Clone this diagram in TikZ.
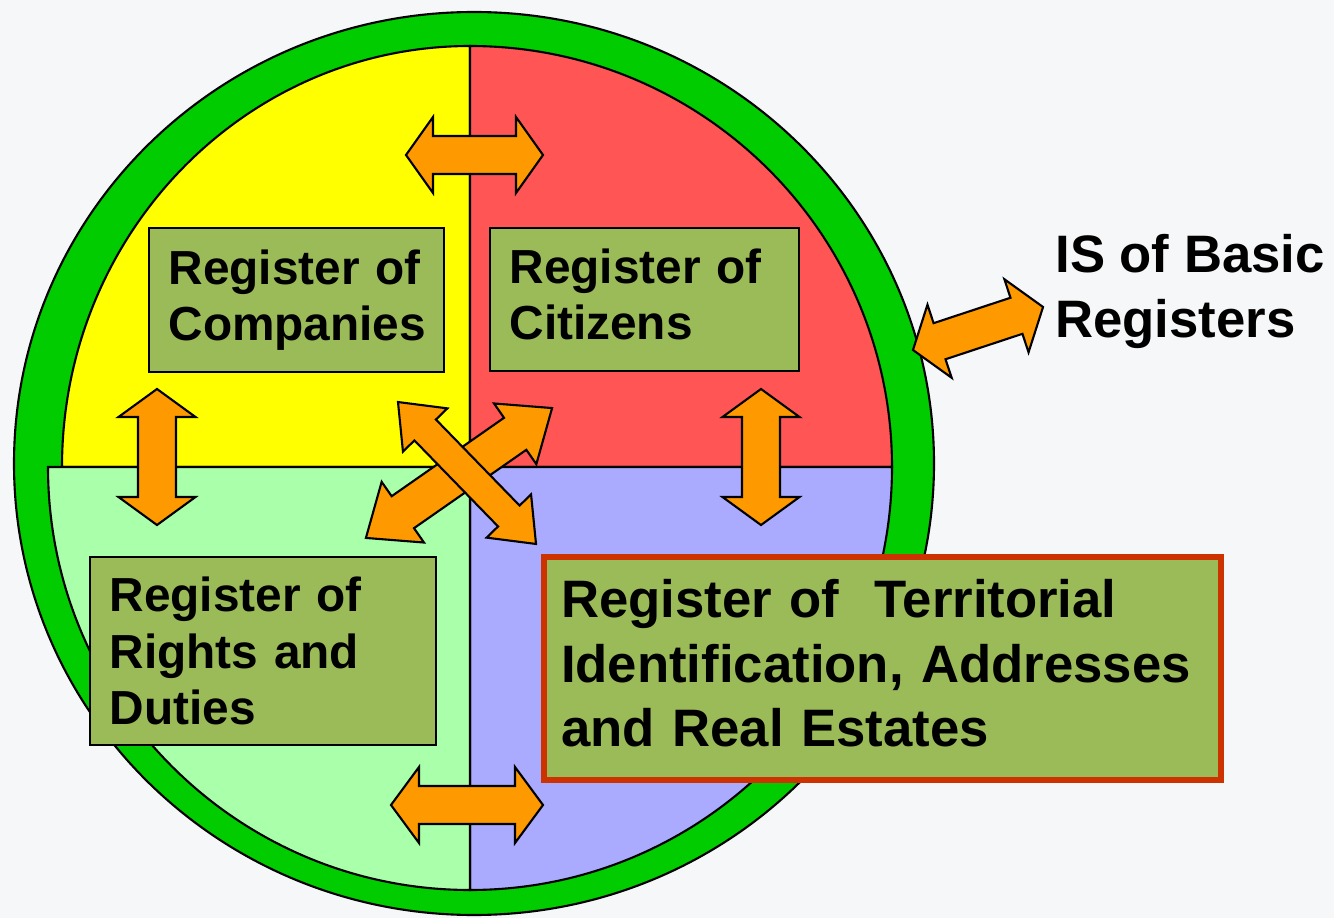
\documentclass[tikz,border=0pt]{standalone}
\usepackage{fontspec}
\setmainfont{Liberation Sans}

\definecolor{bgpaper}{RGB}{246,247,249}
\definecolor{ringgreen}{HTML}{00CC00}
\definecolor{quadyellow}{HTML}{FFFF00}
\definecolor{quadred}{HTML}{FF5555}
\definecolor{quadgreen}{HTML}{AAFFAA}
\definecolor{quadblue}{HTML}{AAAAFF}
\definecolor{arroworange}{HTML}{FF9900}
\definecolor{boxolive}{HTML}{9BBB59}
\definecolor{borderred}{HTML}{CC3300}

\tikzset{
  quadrant/.style={draw=black, line width=1.2pt},
  regbox/.style={draw=black, fill=boxolive, line width=1.2pt, inner xsep=0.39cm,
    inner ysep=0pt, align=left, font=\fontsize{27.2}{32}\selectfont\bfseries},
  arrowfill/.style={draw=black, fill=arroworange, line width=1.2pt, line join=miter},
}

% double block arrow: centre x, centre y, angle, half length, head length, head half width, shaft half width
\newcommand{\regarrow}[7]{%
  \begin{scope}[shift={(#1,#2)},rotate=#3]
    \draw[arrowfill] (-#4,0) -- (-#4+#5,#6) -- (-#4+#5,#7) -- (#4-#5,#7) -- (#4-#5,#6) -- (#4,0)
      -- (#4-#5,-#6) -- (#4-#5,-#7) -- (-#4+#5,-#7) -- (-#4+#5,-#6) -- cycle;
  \end{scope}}

\begin{document}
\begin{tikzpicture}[x=0.02cm,y=-0.02cm]
		\useasboundingbox (0,0) rectangle (1334,918);
		\fill[bgpaper] (0,0) rectangle (1334,918);
		% outer ring
		\draw[fill=ringgreen, line width=1.2pt] (474,463.5) ellipse [x radius=460, y radius=451.5];
		% quadrants
		\coordinate (O) at (470,467);
		\draw[quadrant, fill=quadyellow] (O) -- ++(-408,0) arc[start angle=180, end angle=270, x radius=408, y radius=421] -- cycle;
		\draw[quadrant, fill=quadred] (O) -- ++(0,-421) arc[start angle=270, end angle=360, x radius=422, y radius=421] -- cycle;
		\draw[quadrant, fill=quadblue] (O) -- ++(422,0) arc[start angle=0, end angle=90, x radius=422, y radius=423] -- cycle;
		\draw[quadrant, fill=quadgreen] (O) -- ++(0,423) arc[start angle=90, end angle=180, x radius=422, y radius=423] -- cycle;
		% registers
		\node[regbox, text width=5.12cm, minimum height=2.88cm] (companies) at (296.5,300) {Register of\\Companies};
		\node[regbox, text width=5.4cm, minimum height=2.86cm] (citizens) at (644.5,299.5) {Register of\\Citizens\vphantom{p}};
		\node[regbox, text width=6.14cm, minimum height=3.76cm] (rights) at (263,651) {Register of\\Rights and\\Duties};
		\node[regbox, draw=borderred, line width=3.4pt, inner xsep=0.34cm, text width=12.86cm, minimum height=4.46cm,
			font=\fontsize{30}{36.5}\selectfont\bfseries] (territorial) at (882.5,668.5)
			{Register of\ \ Territorial\\Identification, Addresses\\and Real Estates\vphantom{g}};
		\node[font=\fontsize{30}{37}\selectfont\bfseries, align=left, inner sep=0pt, anchor=west] (isbr) at (1055,291) {IS of Basic\\Registers};
		% arrows
		\regarrow{474.5}{155}{0}{68.5}{27}{38}{19}
		\regarrow{467}{805}{0}{76}{28}{38}{19}
		\regarrow{157}{457}{90}{68}{28}{38.5}{19}
		\regarrow{761}{457}{90}{68}{28}{38.5}{19}
		\regarrow{978}{328.5}{18.3}{68.5}{28}{38.5}{19}
		\regarrow{459}{473}{34.9}{113.5}{45}{37}{19.5}
		\regarrow{467}{473}{-45.8}{99}{39}{31}{15}
\end{tikzpicture}
\end{document}
